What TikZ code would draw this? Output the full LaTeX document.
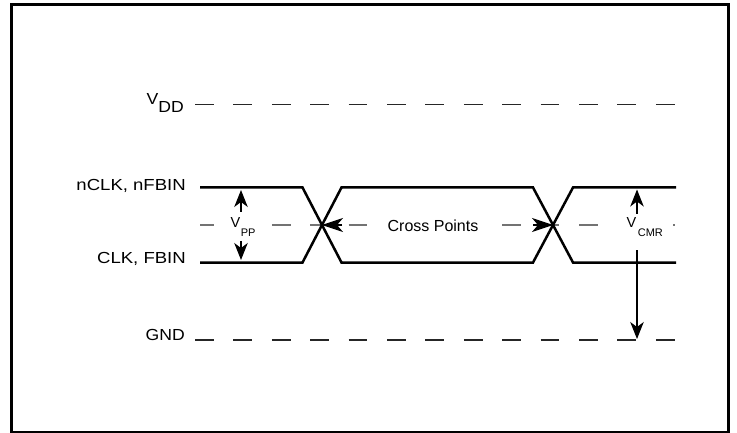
\documentclass[tikz,border=0pt]{standalone}
\usepackage{fontspec}
\setmainfont{Liberation Sans}
\usepackage{graphicx}
\usetikzlibrary{arrows.meta}
\newcommand\stretchtxt[2]{\scalebox{#1}[1]{#2}}
\begin{document}
\begin{tikzpicture}[x=1pt,y=-1pt,
  frame/.style={line width=3pt},
  sig/.style={line width=2.5pt, line join=miter},
  rail/.style={line width=1.3pt, dash pattern=on 18.8pt off 19.6pt, color=black!85},
  midline/.style={line width=1.3pt, dash pattern=on 18.8pt off 19.6pt, dash phase=5pt, color=black!55},
  dimarrow/.style={line width=1.1pt, -{Stealth[length=17pt,width=13.5pt,inset=5pt]}},
  crossarrow/.style={line width=1.1pt, -{Stealth[length=21pt,width=14pt,inset=6pt]}},
  lbl/.style={font=\fontsize{16}{18}\selectfont, inner sep=0pt},
  sublbl/.style={fill=white, inner ysep=2pt, font=\fontsize{14.5}{16}\selectfont}
]
\useasboundingbox (0,0) rectangle (737,433);
\draw[frame] (11.5,4.5) rectangle (728,432);

% labels
\node[lbl, anchor=base east] (vdd) at (184,105) {\stretchtxt{1.1}{V\raisebox{-8pt}{DD}}};
\node[lbl, anchor=base east] (nclk) at (186,191) {\stretchtxt{1.16}{nCLK, nFBIN}};
\node[lbl, anchor=base east] (clk) at (186,263.5) {\stretchtxt{1.16}{CLK, FBIN}};
\node[lbl, anchor=base east] (gnd) at (185,340) {\stretchtxt{1.1}{GND}};

% rails
\coordinate (vddL) at (195,104.5);
\coordinate (vddR) at (676,104.5);
\coordinate (gndL) at (195,340);
\coordinate (gndR) at (676,340);
\coordinate (midL) at (200,225);
\coordinate (midR) at (676,225);
\draw[rail] (vddL) -- (vddR);
\draw[rail] (gndL) -- (gndR);
\draw[midline] (midL) -- (midR);

% signals
\coordinate (cross1) at (322,225);
\coordinate (cross2) at (553,225);
\draw[sig] (200,187.5) -- (302.5,187.5) -- (341.5,262.5) -- (533,262.5) -- (573,187.5) -- (676,187.5);
\draw[sig] (200,262.5) -- (302.5,262.5) -- (341.5,187.5) -- (533,187.5) -- (573,262.5) -- (676,262.5);

% text on the middle line
\node[sublbl, anchor=base west, inner xsep=4pt] (vpp) at (226.5,228)
  {V\raisebox{-9pt}{\fontsize{11}{12}\selectfont\kern0.5pt PP}};
\node[sublbl, anchor=base, inner xsep=6pt, font=\fontsize{16}{18}\selectfont] (cp) at (433,232) {Cross Points};
\node[sublbl, anchor=base west, inner xsep=10pt] (vcmr) at (616.5,228)
  {V\raisebox{-9pt}{\fontsize{11}{12}\selectfont\kern1.5pt CMR}};

% dimension arrows
\coordinate (vppU) at (241,212);
\coordinate (vppT) at (241,190);
\coordinate (vppD) at (241,241);
\coordinate (vppB) at (241,260);
\draw[dimarrow] (vppU) -- (vppT);
\draw[dimarrow] (vppD) -- (vppB);

\coordinate (cmrU) at (637,214);
\coordinate (cmrT) at (637,189.5);
\coordinate (cmrD) at (637,250);
\coordinate (cmrB) at (637,339);
\draw[dimarrow] (cmrU) -- (cmrT);
\draw[dimarrow] (cmrD) -- (cmrB);

\coordinate (cpA) at (342,225);
\coordinate (cpB) at (533,225);
\draw[crossarrow] (cpA) -- (cross1);
\draw[crossarrow] (cpB) -- (cross2);
\end{tikzpicture}
\end{document}
